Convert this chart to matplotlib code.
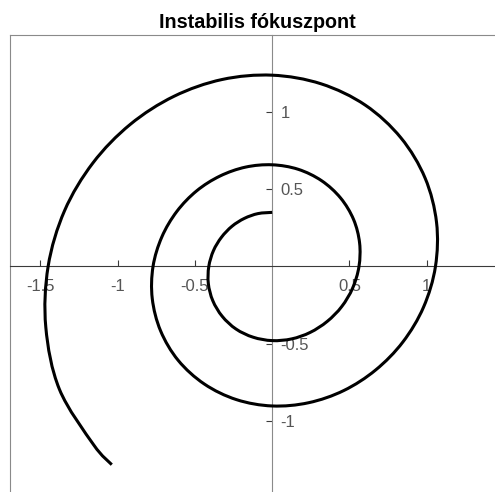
import matplotlib
matplotlib.use("Agg")
import matplotlib.pyplot as plt
from matplotlib.path import Path
from matplotlib.patches import PathPatch

plt.rcParams["font.family"] = ["Liberation Sans", "DejaVu Sans"]

# Trajectory of the unstable focus, sampled along the curve (outward spiral)
traj_x = [0.000, -0.092, -0.180, -0.260, -0.328, -0.380, -0.410, -0.413, -0.384, -0.323,
          -0.234, -0.123, 0.000, 0.126, 0.246, 0.356, 0.450, 0.521, 0.562, 0.566,
          0.527, 0.443, 0.320, 0.168, 0.000, -0.172, -0.338, -0.489, -0.617, -0.714,
          -0.771, -0.776, -0.722, -0.608, -0.439, -0.231, 0.000, 0.236, 0.464, 0.670,
          0.846, 0.980, 1.057, 1.064, 0.990, 0.833, 0.603, 0.317, 0.000, -0.324,
          -0.636, -0.919, -1.160, -1.344, -1.450, -1.465, -1.377, -1.155, -1.038]
traj_y = [0.350, 0.342, 0.311, 0.260, 0.189, 0.102, 0.000, -0.111, -0.222, -0.323,
          -0.405, -0.458, -0.480, -0.469, -0.427, -0.356, -0.260, -0.140, 0.000, 0.152,
          0.304, 0.443, 0.555, 0.629, 0.658, 0.643, 0.585, 0.489, 0.356, 0.191,
          0.000, -0.208, -0.417, -0.608, -0.761, -0.862, -0.903, -0.882, -0.803, -0.670,
          -0.489, -0.263, 0.000, 0.285, 0.572, 0.833, 1.044, 1.182, 1.238, 1.210,
          1.101, 0.919, 0.670, 0.360, 0.000, -0.393, -0.795, -1.155, -1.283]

x_ticks = [-1.5, -1, -0.5, 0.5, 1]
x_tick_labels = ["-1.5", "-1", "-0.5", "0.5", "1"]
y_ticks = [-1, -0.5, 0.5, 1]
y_tick_labels = ["-1", "-0.5", "0.5", "1"]

title = "Instabilis fókuszpont"

W, H = 495, 492
fig = plt.figure(figsize=(W / 100, H / 100), dpi=100)

# plot area: 154.5 px per unit on both axes, x from -1.7 to 1.5, y from -1.5 to 1.5
px_unit = 154.5
left_px, top_px = 9.5, 34.7
ax = fig.add_axes([left_px / W, 1 - (top_px + 3.0 * px_unit) / H,
                   3.2 * px_unit / W, 3.0 * px_unit / H])
ax.set_xlim(-1.7, 1.5)
ax.set_ylim(-1.5, 1.5)

border = "#8a8a8a"
ax.spines["top"].set_color(border)
ax.spines["left"].set_color(border)
ax.spines["top"].set_linewidth(0.8)
ax.spines["left"].set_linewidth(0.8)

# axes crossing at the origin
ax.spines["bottom"].set_position(("data", 0))
ax.spines["bottom"].set_color("#3a3a3a")
ax.spines["bottom"].set_linewidth(0.8)
ax.spines["right"].set_position(("data", 0))
ax.spines["right"].set_color("#8a8a8a")
ax.spines["right"].set_linewidth(0.8)

ax.xaxis.set_ticks_position("bottom")
ax.yaxis.set_ticks_position("right")
ax.set_xticks(x_ticks)
ax.set_xticklabels(x_tick_labels)
ax.set_yticks(y_ticks)
ax.set_yticklabels(y_tick_labels)
ax.tick_params(axis="x", direction="in", length=4, width=0.8, color="#3a3a3a",
               pad=9, labelsize=12, labelcolor="#555555")
ax.tick_params(axis="y", direction="in", length=4, width=0.8, color="#3a3a3a",
               pad=6, labelsize=12, labelcolor="#555555",
               left=False, labelleft=False, right=True, labelright=True)
for lab in ax.get_yticklabels():
    lab.set_horizontalalignment("left")

# smooth curve through the samples (Catmull-Rom as cubic Bezier segments)
pts = list(zip(traj_x, traj_y))
n = len(pts)
verts = [pts[0]]
codes = [Path.MOVETO]
for i in range(n - 1):
    p0 = pts[i - 1] if i > 0 else pts[i]
    p1 = pts[i]
    p2 = pts[i + 1]
    p3 = pts[i + 2] if i + 2 < n else pts[i + 1]
    c1 = (p1[0] + (p2[0] - p0[0]) / 6, p1[1] + (p2[1] - p0[1]) / 6)
    c2 = (p2[0] - (p3[0] - p1[0]) / 6, p2[1] - (p3[1] - p1[1]) / 6)
    verts += [c1, c2, p2]
    codes += [Path.CURVE4] * 3
ax.add_patch(PathPatch(Path(verts, codes), facecolor="none", edgecolor="black",
                       linewidth=2.2, capstyle="butt", zorder=3))

fig.text(257.5 / W, 1 - 27.5 / H, title, ha="center", va="baseline",
         fontsize=14.2, fontweight="bold", color="black")

fig.savefig("out.png", dpi=100)
